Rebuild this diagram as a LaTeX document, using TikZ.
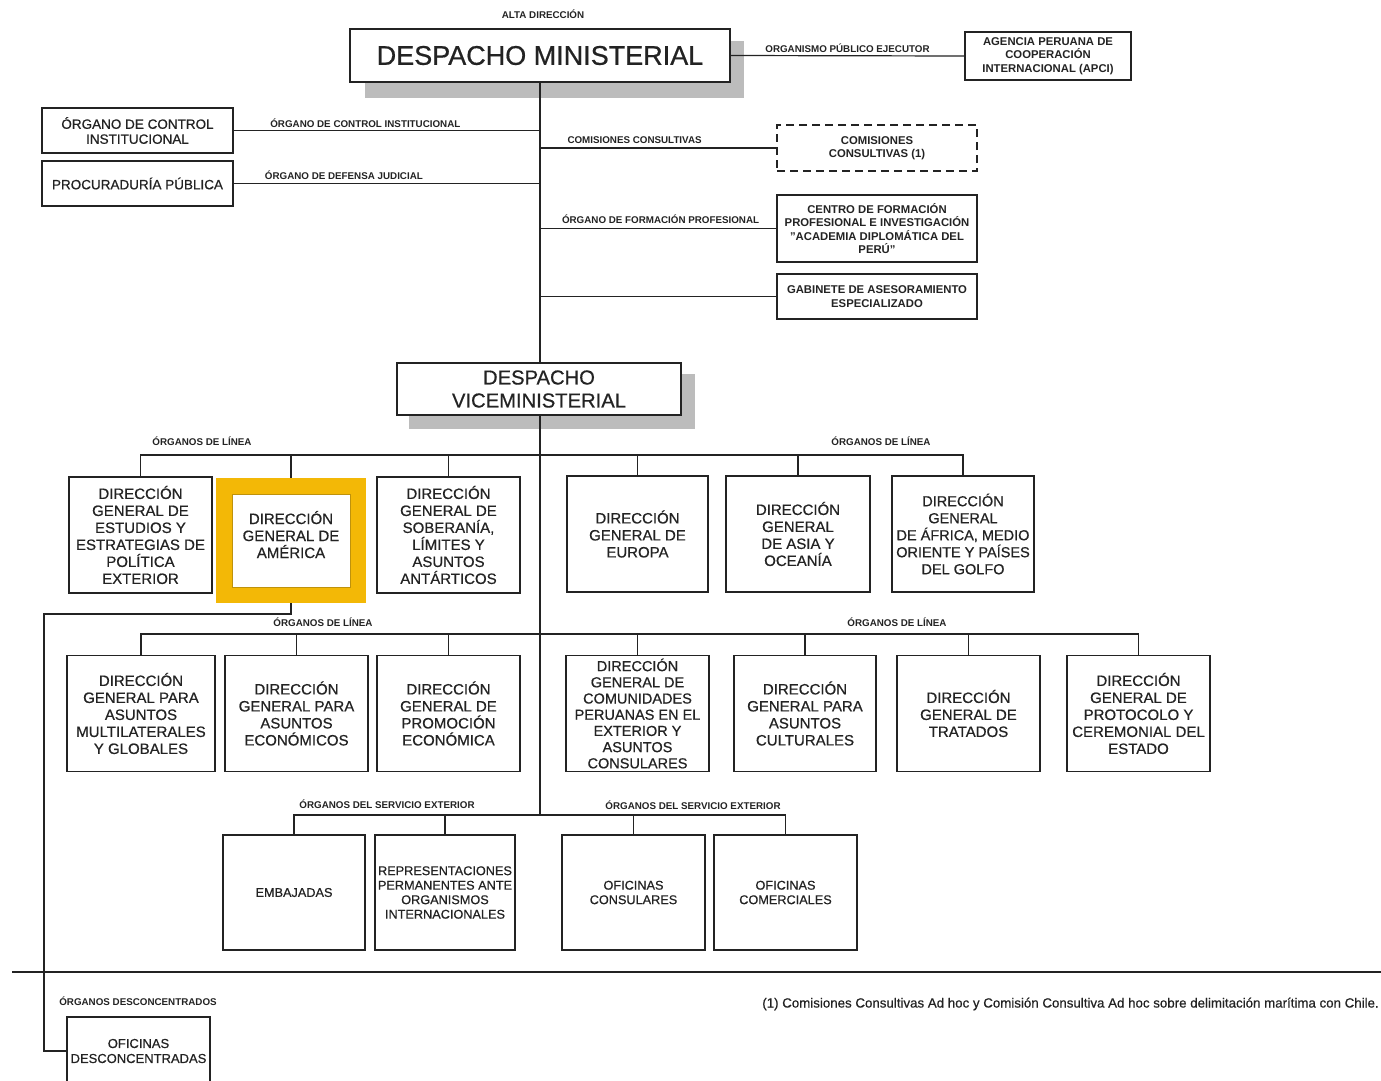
\documentclass[tikz,border=0pt]{standalone}
\usepackage{fontspec}
\setmainfont{Liberation Sans}
\newfontfamily\denseface{Liberation Sans}[FakeBold=0.6]
\usetikzlibrary{calc}
\definecolor{amberbox}{RGB}{243,184,6}
\definecolor{amberedge}{RGB}{190,146,12}
\definecolor{shadegray}{RGB}{188,188,188}
\definecolor{inkgray}{RGB}{35,35,35}
\pgfdeclarelayer{shade}
\pgfdeclarelayer{back}
\pgfsetlayers{shade,back,main}
\tikzset{
	unit/.style={draw=inkgray, fill=white, line width=1.2pt, align=center, inner sep=1pt, text=inkgray,
		font=\denseface\fontsize{15}{17}\selectfont},
	dgbox/.style={unit, minimum width=143pt, minimum height=116pt},
	svbox/.style={unit, minimum width=142pt, minimum height=115pt, font=\denseface\fontsize{12.7}{14.5}\selectfont},
	sidebox/.style={unit, minimum width=200pt, font=\bfseries\fontsize{11.3}{13.5}\selectfont},
	tag/.style={font=\bfseries\fontsize{9.8}{11}\selectfont, text=inkgray, inner sep=1pt},
	link/.style={draw=inkgray, line width=1.2pt},
}
\begin{document}
\begin{tikzpicture}[x=1pt,y=-1pt]
	\useasboundingbox (0,0) rectangle (1381,1080);
	\node[tag] (alta) at (543,14) {ALTA DIRECCIÓN};
	\node[unit, minimum width=380pt, minimum height=53pt, font=\denseface\fontsize{27}{30}\selectfont] (dm) at (540,55.5) {DESPACHO MINISTERIAL};
	\node[sidebox, minimum width=166pt, minimum height=48pt] (apci) at (1048,56) {AGENCIA PERUANA DE\\COOPERACIÓN\\INTERNACIONAL (APCI)};
	\node[unit, minimum width=191pt, minimum height=45pt, font=\denseface\fontsize{13.5}{15}\selectfont] (oci) at (137.5,130.5) {ÓRGANO DE CONTROL\\INSTITUCIONAL};
	\node[unit, minimum width=191pt, minimum height=45pt, font=\denseface\fontsize{13.5}{15}\selectfont] (proc) at (137.5,183.5) {PROCURADURÍA PÚBLICA};
	\node[sidebox, dashed, dash pattern=on 8pt off 5pt, minimum height=46pt] (cc) at (877,148) {COMISIONES\\CONSULTIVAS (1)};
	\node[sidebox, minimum height=67pt] (adp) at (877,228.5) {CENTRO DE FORMACIÓN\\PROFESIONAL E INVESTIGACIÓN\\"ACADEMIA DIPLOMÁTICA DEL\\PERÚ"};
	\node[sidebox, minimum height=45pt] (gae) at (877,296.5) {GABINETE DE ASESORAMIENTO\\ESPECIALIZADO};
	\node[unit, minimum width=284pt, minimum height=52pt, font=\denseface\fontsize{20.2}{23}\selectfont] (dv) at (539,389) {DESPACHO\\VICEMINISTERIAL};

	\node[dgbox] (dgepe) at (140.5,535) {DIRECCIÓN\\GENERAL DE\\ESTUDIOS Y\\ESTRATEGIAS DE\\POLÍTICA\\EXTERIOR};
	\node[fill=amberbox, minimum width=150pt, minimum height=125pt, inner sep=0pt] (dgaframe) at (291,540.5) {};
	\node[unit, draw=amberedge, line width=0.8pt, minimum width=118pt, minimum height=93pt, text depth=12pt] (dga) at (291,540.5) {DIRECCIÓN\\GENERAL DE\\AMÉRICA};
	\node[dgbox] (dgsla) at (448.5,535) {DIRECCIÓN\\GENERAL DE\\SOBERANÍA,\\LÍMITES Y\\ASUNTOS\\ANTÁRTICOS};
	\node[dgbox, minimum width=141pt] (dgeur) at (637.5,534) {DIRECCIÓN\\GENERAL DE\\EUROPA};
	\node[dgbox, minimum width=144pt] (dgaso) at (798,534) {DIRECCIÓN\\GENERAL\\DE ASIA Y\\OCEANÍA};
	\node[dgbox, minimum width=142pt, font=\denseface\fontsize{14.5}{17}\selectfont] (dgamo) at (963,534) {DIRECCIÓN\\GENERAL\\DE ÁFRICA, MEDIO\\ORIENTE Y PAÍSES\\DEL GOLFO};

	\node[dgbox, minimum width=148pt] (dgamg) at (141,713.5) {DIRECCIÓN\\GENERAL PARA\\ASUNTOS\\MULTILATERALES\\Y GLOBALES};
	\node[dgbox] (dgae) at (296.5,713.5) {DIRECCIÓN\\GENERAL PARA\\ASUNTOS\\ECONÓMICOS};
	\node[dgbox] (dgpe) at (448.5,713.5) {DIRECCIÓN\\GENERAL DE\\PROMOCIÓN\\ECONÓMICA};
	\node[dgbox, font=\denseface\fontsize{14.5}{16.2}\selectfont] (dgcpe) at (637.5,713.5) {DIRECCIÓN\\GENERAL DE\\COMUNIDADES\\PERUANAS EN EL\\EXTERIOR Y\\ASUNTOS\\CONSULARES};
	\node[dgbox, minimum width=142pt] (dgac) at (805,713.5) {DIRECCIÓN\\GENERAL PARA\\ASUNTOS\\CULTURALES};
	\node[dgbox] (dgt) at (968.5,713.5) {DIRECCIÓN\\GENERAL DE\\TRATADOS};
	\node[dgbox] (dgpce) at (1138.5,713.5) {DIRECCIÓN\\GENERAL DE\\PROTOCOLO Y\\CEREMONIAL DEL\\ESTADO};

	\node[svbox] (emb) at (294,892.5) {EMBAJADAS};
	\node[svbox, minimum width=140pt] (rep) at (445,892.5) {REPRESENTACIONES\\PERMANENTES ANTE\\ORGANISMOS\\INTERNACIONALES};
	\node[svbox, minimum width=143pt] (ocon) at (633.5,892.5) {OFICINAS\\CONSULARES};
	\node[svbox, minimum width=143pt] (ocom) at (785.5,892.5) {OFICINAS\\COMERCIALES};

	\node[unit, minimum width=143pt, minimum height=68pt, font=\denseface\fontsize{13}{15}\selectfont] (desc) at (138.5,1051) {OFICINAS\\DESCONCENTRADAS};

	\node[tag] (lin1a) at (202,441) {ÓRGANOS DE LÍNEA};
	\node[tag] (lin1b) at (881,441) {ÓRGANOS DE LÍNEA};
	\node[tag] (lin2a) at (323,622) {ÓRGANOS DE LÍNEA};
	\node[tag] (lin2b) at (897,622) {ÓRGANOS DE LÍNEA};
	\node[tag] (sext1) at (387,804) {ÓRGANOS DEL SERVICIO EXTERIOR};
	\node[tag] (sext2) at (693,805) {ÓRGANOS DEL SERVICIO EXTERIOR};
	\node[tag] (odesc) at (138,1001) {ÓRGANOS DESCONCENTRADOS};
	\node[anchor=east, text=inkgray, inner sep=0pt, font=\denseface\fontsize{13.3}{15}\selectfont] (note) at (1379,1004) {(1) Comisiones Consultivas Ad hoc y Comisión Consultiva Ad hoc sobre delimitación marítima con Chile.};

	\coordinate (bus1) at (540,455);
	\coordinate (bus2) at (540,634);
	\coordinate (bus3) at (540,815);
	\coordinate (bend) at (44,614);
	\coordinate (cutl) at (12,972);
	\coordinate (cutr) at (1381,972);

	\begin{pgfonlayer}{shade}
		\fill[shadegray] ($(dm.south west)+(16,15)$) rectangle ($(dm.north east)+(13,13)$);
		\fill[shadegray] ($(dv.south west)+(13,13)$) rectangle ($(dv.north east)+(13,12)$);
	\end{pgfonlayer}
	\begin{pgfonlayer}{back}
		\draw[link] (dm.south) -- (bus3);
		\draw[link] (dm.east) -- node[tag, above=2pt]{ORGANISMO PÚBLICO EJECUTOR} (apci.west);
		\draw[link] (oci.east) -- node[tag, pos=0.43, above=1pt]{ÓRGANO DE CONTROL INSTITUCIONAL} (oci.east -| bus1);
		\draw[link] (proc.east) -- node[tag, pos=0.36, above=2pt]{ÓRGANO DE DEFENSA JUDICIAL} (proc.east -| bus1);
		\draw[link] (cc.west -| bus1) -- node[tag, pos=0.40, above=3pt]{COMISIONES CONSULTIVAS} (cc.west);
		\draw[link] (adp.west -| bus1) -- node[tag, pos=0.51, above=3pt]{ÓRGANO DE FORMACIÓN PROFESIONAL} (adp.west);
		\draw[link] (gae.west -| bus1) -- (gae.west);
		\draw[link] (dgepe.north) |- (bus1) -| (dgamo.north);
		\foreach \n in {dgaframe,dgsla,dgeur,dgaso}
			\draw[link] (\n.north) -- (\n.north |- bus1);
		\draw[link] (dgamg.north) |- (bus2) -| (dgpce.north);
		\foreach \n in {dgae,dgpe,dgcpe,dgac,dgt}
			\draw[link] (\n.north) -- (\n.north |- bus2);
		\draw[link] (emb.north) |- (bus3) -| (ocom.north);
		\foreach \n in {rep,ocon}
			\draw[link] (\n.north) -- (\n.north |- bus3);
		\draw[link] (dgaframe.south) |- (bend) |- (desc.west);
		\draw[link] (cutl) -- (cutr);
	\end{pgfonlayer}
\end{tikzpicture}
\end{document}
